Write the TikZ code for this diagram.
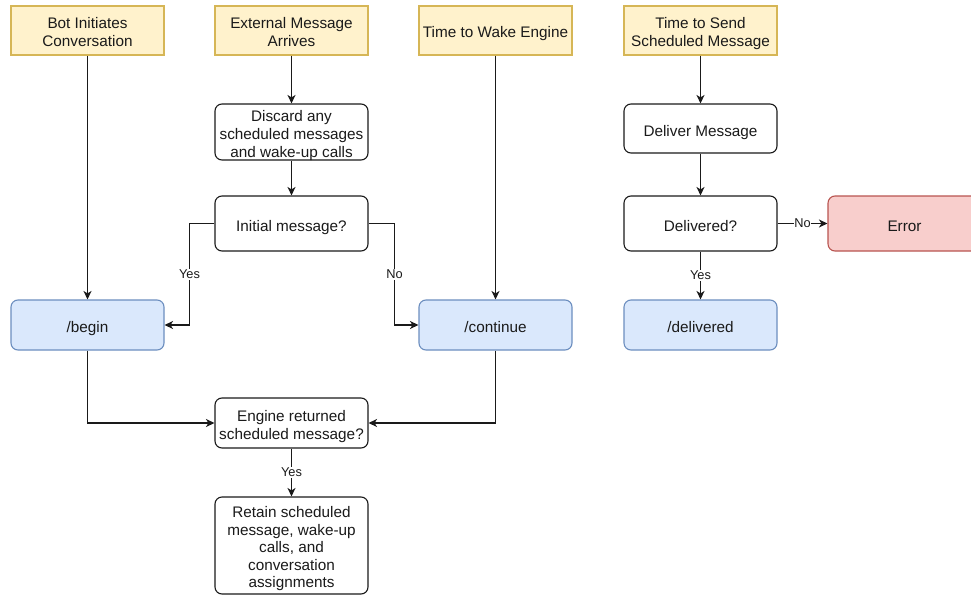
\documentclass[tikz,border=0pt]{standalone}
\usepackage{fontspec}
\setmainfont{Liberation Sans}
\usetikzlibrary{arrows.meta}
\definecolor{trigfill}{HTML}{FFF2CC}
\definecolor{trigline}{HTML}{D6B656}
\definecolor{endfill}{HTML}{DAE8FC}
\definecolor{endline}{HTML}{6C8EBF}
\definecolor{errfill}{HTML}{F8CECC}
\definecolor{errline}{HTML}{B85450}
\definecolor{ink}{HTML}{1A1A1A}
% centred block of lines, set without size so the box size comes from the style
\newcommand\flowtext[1]{\raisebox{-7.5pt}[0pt][0pt]{\begin{tabular}{@{}c@{}}#1\end{tabular}}}
\tikzset{
  box/.style={draw=ink, line width=1.1pt, rounded corners=7pt, fill=white,
    minimum width=153pt, inner sep=0pt, text=ink,
    font=\fontsize{15.3pt}{18pt}\selectfont},
  trigger/.style={box, rounded corners=0pt, draw=trigline, fill=trigfill, minimum height=49pt},
  endpoint/.style={box, draw=endline, fill=endfill, minimum height=50pt},
  errbox/.style={box, draw=errline, fill=errfill, minimum height=55pt},
  conn/.style={draw=ink, line width=1.2pt},
  arr/.style={conn, -{Stealth[length=8.5pt, width=8pt, inset=2.5pt]}},
  lbl/.style={fill=white, inner sep=1pt, text=ink,
    font=\fontsize{12.8pt}{15pt}\selectfont}
}
\begin{document}
\begin{tikzpicture}[x=1pt, y=-1pt]
\useasboundingbox (0,0) rectangle (971,594);

% event triggers
\node[trigger] (bot)  at (87.5,30.5)  {\flowtext{Bot Initiates\\Conversation}};
\node[trigger] (ext)  at (291.5,30.5) {\flowtext{External Message\\Arrives}};
\node[trigger] (wake) at (495.5,30.5) {\flowtext{Time to Wake Engine}};
\node[trigger] (send) at (700.5,30.5) {\flowtext{Time to Send\\Scheduled Message}};

% processing steps
\node[box, minimum height=56pt] (discard) at (291.5,132) {\flowtext{Discard any\\scheduled messages\\and wake-up calls}};
\node[box, minimum height=55pt] (initial) at (291.5,223.5) {\flowtext{Initial message?}};
\node[endpoint] (begin) at (87.5,325) {\flowtext{/begin}};
\node[endpoint] (cont)  at (495.5,325) {\flowtext{/continue}};
\node[box, minimum height=50pt] (engine) at (291.5,423) {\flowtext{Engine returned\\scheduled message?}};
\node[box, minimum height=97pt, font=\fontsize{15.3pt}{17.5pt}\selectfont] (retain) at (291.5,545.5)
  {\flowtext{Retain scheduled\\message, wake-up\\calls, and\\conversation\\assignments}};

\node[box, minimum height=49pt] (deliver) at (700.5,128.5) {\flowtext{Deliver Message}};
\node[box, minimum height=55pt] (delivq) at (700.5,223.5) {\flowtext{Delivered?}};
\node[errbox] (error) at (904.5,223.5) {\flowtext{Error}};
\node[endpoint] (delivered) at (700.5,325) {\flowtext{/delivered}};

% connectors
\draw[arr] (bot) -- (begin);
\draw[arr] (ext) -- (discard);
\draw[arr] (discard) -- (initial);
\draw[arr] (initial.west) -- ([xshift=-25pt]initial.west) |- (begin.east)
  node[lbl, pos=0.25] {Yes};
\draw[arr] (initial.east) -- ([xshift=26pt]initial.east) |- (cont.west)
  node[lbl, pos=0.25] {No};
\draw[arr] (wake) -- (cont);
\draw[arr] (begin.south) |- (engine.west);
\draw[arr] (cont.south) |- (engine.east);
\draw[arr] (engine) -- node[lbl] {Yes} (retain);

\draw[arr] (send) -- (deliver);
\draw[arr] (deliver) -- (delivq);
\draw[arr] (delivq) -- node[lbl, inner sep=0.5pt] {No} (error);
\draw[arr] (delivq) -- node[lbl] {Yes} (delivered);
\end{tikzpicture}
\end{document}
